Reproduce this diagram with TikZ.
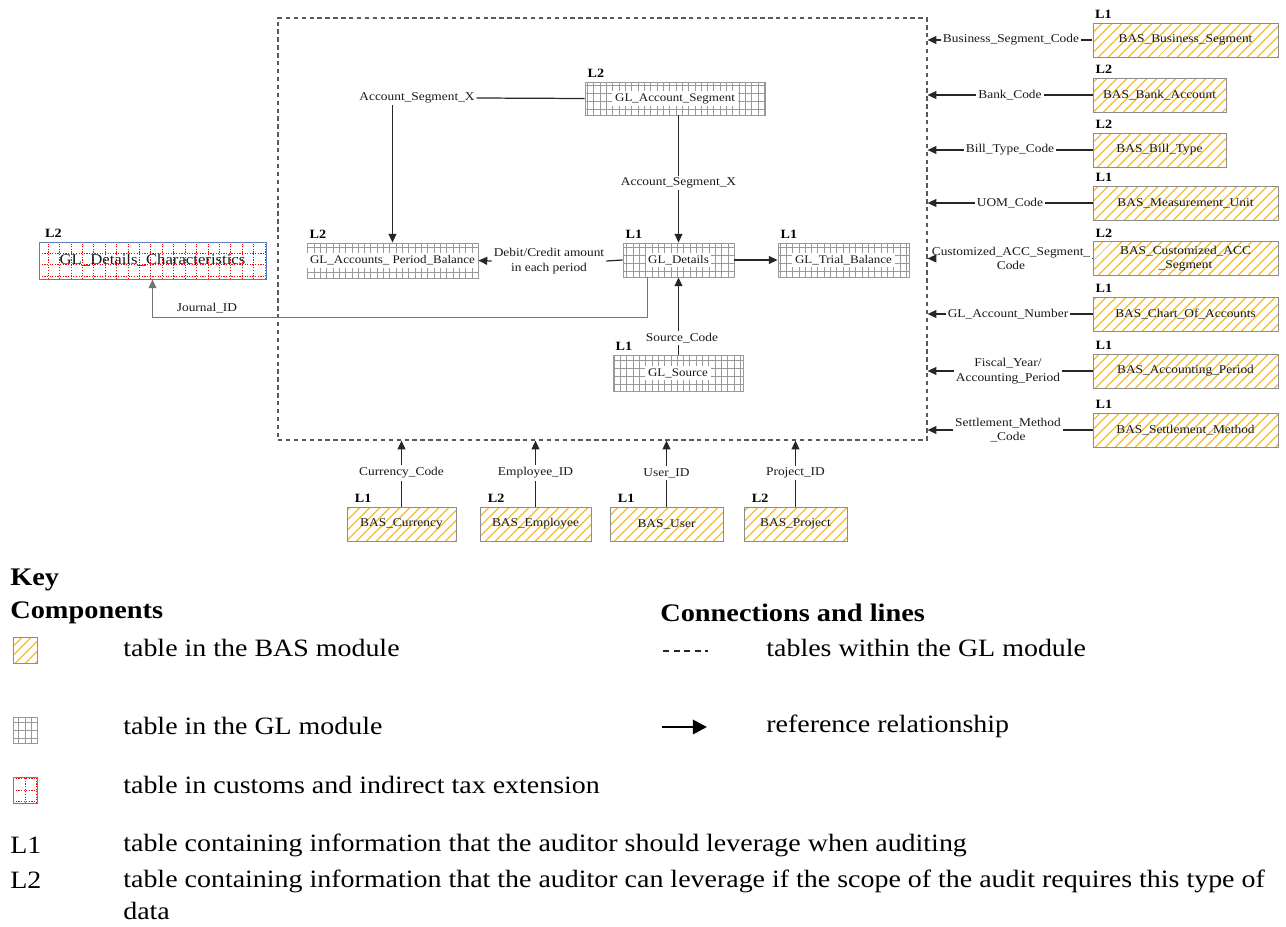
\documentclass[tikz,border=0pt]{standalone}
\usepackage{fontspec}
\setmainfont{Liberation Serif}
\newfontfamily\keyfont{Liberation Serif}[FakeStretch=1.12]
\usetikzlibrary{arrows.meta,patterns.meta}
\definecolor{basgold}{HTML}{F6C445}
\definecolor{gridgray}{gray}{0.6}
\definecolor{taxblue}{HTML}{5B7DB8}
\def\gltxt#1{{\setlength\fboxsep{1.5pt}\colorbox{white}{#1}}}
\tikzset{
  wh/.style 2 args={minimum width=#1*0.02cm, minimum height=#2*0.02cm},
  dia/.style={font=\keyfont\fontsize{6.8}{8.2}\selectfont, text=black!90},
  bas/.style={dia, draw=black!45, line width=0.5pt, inner sep=0pt, align=center,
    pattern={Lines[angle=45,distance=4pt,line width=0.9pt]}, pattern color=basgold},
  gl/.style={dia, font=\keyfont\fontsize{6.6}{8}\selectfont, draw=gridgray, line width=0.5pt, inner sep=0pt,
    path picture={\draw[gridgray, line width=0.25pt] (path picture bounding box.south west)
      grid[xstep=3.6pt, ystep=4.6pt] (path picture bounding box.north east);}},
  tax/.style={dia, draw=taxblue, line width=0.5pt, inner sep=0pt,
    path picture={\draw[red, line width=0.55pt, dash pattern=on 0.7pt off 0.8pt] (path picture bounding box.south west)
      grid[xstep=6.5pt, ystep=6.5pt] (path picture bounding box.north east);}},
  lvl/.style={font=\keyfont\fontsize{7.2}{8}\selectfont\bfseries, anchor=south west, inner sep=0pt, xshift=1.5pt, yshift=2pt},
  fk/.style={dia, inner sep=1pt, align=center},
  rel/.style={draw=black!85, line width=0.7pt},
  ref/.style={rel, -{Triangle[length=5pt, width=4.5pt]}},
  keytxt/.style={anchor=west, inner sep=0pt, font=\keyfont\fontsize{14.2}{18}\selectfont},
  keyhd/.style={anchor=west, inner sep=0pt, font=\keyfont\fontsize{14.4}{16}\selectfont\bfseries},
}

\begin{document}
\begin{tikzpicture}[x=0.02cm, y=-0.02cm]
	\useasboundingbox (0,0) rectangle (1286,927);
	%%%%% GL MODULE %%%%%
	\node[draw=black!65, line width=0.7pt, dash pattern=on 2.5pt off 2pt, wh={649}{422}] (glm) at (602.5, 229) {};
	
	\node[gl, wh={180}{33}, label={[lvl]north west:L2}] (gas) at (675, 98.5) {\gltxt{GL\_Account\_Segment}};
	\node[gl, wh={171}{35}, label={[lvl]north west:L2}] (gpb) at (392.5, 260.5) {\gltxt{GL\_Accounts\_ Period\_Balance}};
	\node[gl, wh={111}{34}, label={[lvl]north west:L1}] (gdt) at (678.5, 260) {\gltxt{GL\_Details}};
	\node[gl, wh={131}{34}, label={[lvl]north west:L1}] (gtb) at (843.5, 260) {\gltxt{GL\_Trial\_Balance}};
	\node[gl, wh={130}{36}, label={[lvl]north west:L1}] (gsr) at (678, 373) {\gltxt{GL\_Source}};
	\node[tax, wh={227}{37}, label={[lvl, xshift=2pt]north west:L2}] (gdc) at (152.5, 260.5) {\fontsize{8.5}{10}\selectfont GL\_Details\_Characteristics};
	
	\node[fk] (asx1) at (417, 98) {Account\_Segment\_X};
	\node[fk] (asx2) at (678.5, 183) {Account\_Segment\_X};
	\node[fk] (dca) at (549, 261) {Debit/Credit amount\\in each period};
	\node[fk] (src) at (682, 338) {Source\_Code};
	\node[fk] (jid) at (207, 308) {Journal\_ID};
	
	\draw[rel] (gas.west) -- (asx1.east);
	\draw[ref] (asx1.south -| gpb.north) -- (gpb.north);
	\draw[rel] (gas.south -| gdt.north) -- (asx2.north);
	\draw[ref] (asx2.south) -- (gdt.north);
	\draw[rel] (gdt.west) -- (dca.east);
	\draw[ref] (dca.west) -- (gpb.east);
	\draw[ref] (gdt.east) -- (gtb.west);
	\draw[rel] (gsr.north -| gdt.south) -- (src.south -| gdt.south);
	\draw[ref] (src.north -| gdt.south) -- (gdt.south);
	\coordinate (jbend) at (647, 317);
	\draw[ref, draw=black!55, line width=0.5pt] (jbend |- gdt.south) -- (jbend) -| (gdc.south);
	
	%%%%% BAS TABLES, RIGHT %%%%%
	\node[bas, wh={185}{34}, label={[lvl]north west:L1}] (bbs) at (1185.5, 40) {BAS\_Business\_Segment};
	\node[bas, wh={133}{34}, label={[lvl]north west:L2}] (bba) at (1159.5, 95) {BAS\_Bank\_Account};
	\node[bas, wh={133}{34}, label={[lvl]north west:L2}] (bbt) at (1159.5, 150) {BAS\_Bill\_Type};
	\node[bas, wh={185}{34}, label={[lvl]north west:L1}] (bmu) at (1185.5, 203) {BAS\_Measurement\_Unit};
	\node[bas, wh={185}{34}, label={[lvl]north west:L2}] (bca) at (1185.5, 258.5) {BAS\_Customized\_ACC\\\_Segment};
	\node[bas, wh={185}{34}, label={[lvl]north west:L1}] (bco) at (1185.5, 314) {BAS\_Chart\_Of\_Accounts};
	\node[bas, wh={185}{34}, label={[lvl]north west:L1}] (bap) at (1185.5, 371) {BAS\_Accounting\_Period};
	\node[bas, wh={185}{34}, label={[lvl]north west:L1}] (bsm) at (1185.5, 430) {BAS\_Settlement\_Method};
	
	\node[fk] (kbs) at (1011, 40) {Business\_Segment\_Code};
	\node[fk] (kba) at (1010, 95) {Bank\_Code};
	\node[fk] (kbt) at (1010, 150) {Bill\_Type\_Code};
	\node[fk] (kmu) at (1010, 203) {UOM\_Code};
	\node[fk] (kca) at (1011, 258.5) {Customized\_ACC\_Segment\_\\Code};
	\node[fk] (kco) at (1008, 314) {GL\_Account\_Number};
	\node[fk] (kap) at (1008, 371) {Fiscal\_Year/\\Accounting\_Period};
	\node[fk] (ksm) at (1008, 430) {Settlement\_Method\\\_Code};
	
	\foreach \t/\k in {bbs/kbs, bba/kba, bbt/kbt, bmu/kmu, bca/kca, bco/kco, bap/kap, bsm/ksm}{
		\draw[rel] (\t.west) -- (\k.east);
		\draw[ref] (\k.west) -- (\k.west -| glm.east);
	}
	
	%%%%% BAS TABLES, BOTTOM %%%%%
	\node[bas, wh={109}{34}, label={[lvl, xshift=3pt]north west:L1}] (bcu) at (401.5, 524) {BAS\_Currency};
	\node[bas, wh={111}{34}, label={[lvl, xshift=3pt]north west:L2}] (bem) at (535.5, 524) {BAS\_Employee};
	\node[bas, wh={113}{34}, label={[lvl, xshift=3pt]north west:L1}] (bus) at (666.5, 524) {BAS\_User};
	\node[bas, wh={103}{34}, label={[lvl, xshift=3pt]north west:L2}] (bpr) at (795.5, 524) {BAS\_Project};
	
	\node[fk] (kcu) at (401.5, 473) {Currency\_Code};
	\node[fk] (kem) at (535.5, 473) {Employee\_ID};
	\node[fk] (kus) at (666.5, 473) {User\_ID};
	\node[fk] (kpr) at (795.5, 473) {Project\_ID};
	
	\foreach \t/\k in {bcu/kcu, bem/kem, bus/kus, bpr/kpr}{
		\draw[rel] (\t.north) -- (\k.south);
		\draw[ref] (\k.north) -- (\k.north |- glm.south);
	}
	
	%%%%% KEY %%%%%
	\node[keyhd] (key) at (10, 580) {Key};
	\node[keyhd] (kcomp) at (10, 613) {Components};
	\node[keyhd] (kconn) at (660, 613) {Connections and lines};
	
	\node[bas, wh={24}{26}] (sbas) at (25, 650) {};
	\node[gl, wh={24}{26}] (sgl) at (25, 730) {};
	\node[tax, wh={24}{26}] (stax) at (25, 790) {};
	\node[keytxt] (tbas) at (123, 648) {table in the BAS module};
	\node[keytxt] (tgl) at (123, 726) {table in the GL module};
	\node[keytxt] (ttax) at (123, 785) {table in customs and indirect tax extension};
	
	\draw[black!85, line width=1.6pt, dash pattern=on 3.4pt off 2.6pt] (663, 651) -- (708, 651);
	\draw[black, line width=1.6pt, -{Triangle[length=8pt, width=8pt]}] (662, 727) -- (707, 727);
	\node[keytxt] (tdash) at (766, 648) {tables within the GL module};
	\node[keytxt] (tref) at (766, 726) {reference relationship};
	
	\node[keytxt] (l1) at (10, 845) {L1};
	\node[keytxt] (tl1) at (123, 845) {table containing information that the auditor should leverage when auditing};
	\node[keytxt] (l2) at (10, 880) {L2};
	\node[keytxt, anchor=north west, align=left] (tl2) at (123, 870) {table containing information that the auditor can leverage if the scope of the audit requires this type of\\data};
\end{tikzpicture}
\end{document}
